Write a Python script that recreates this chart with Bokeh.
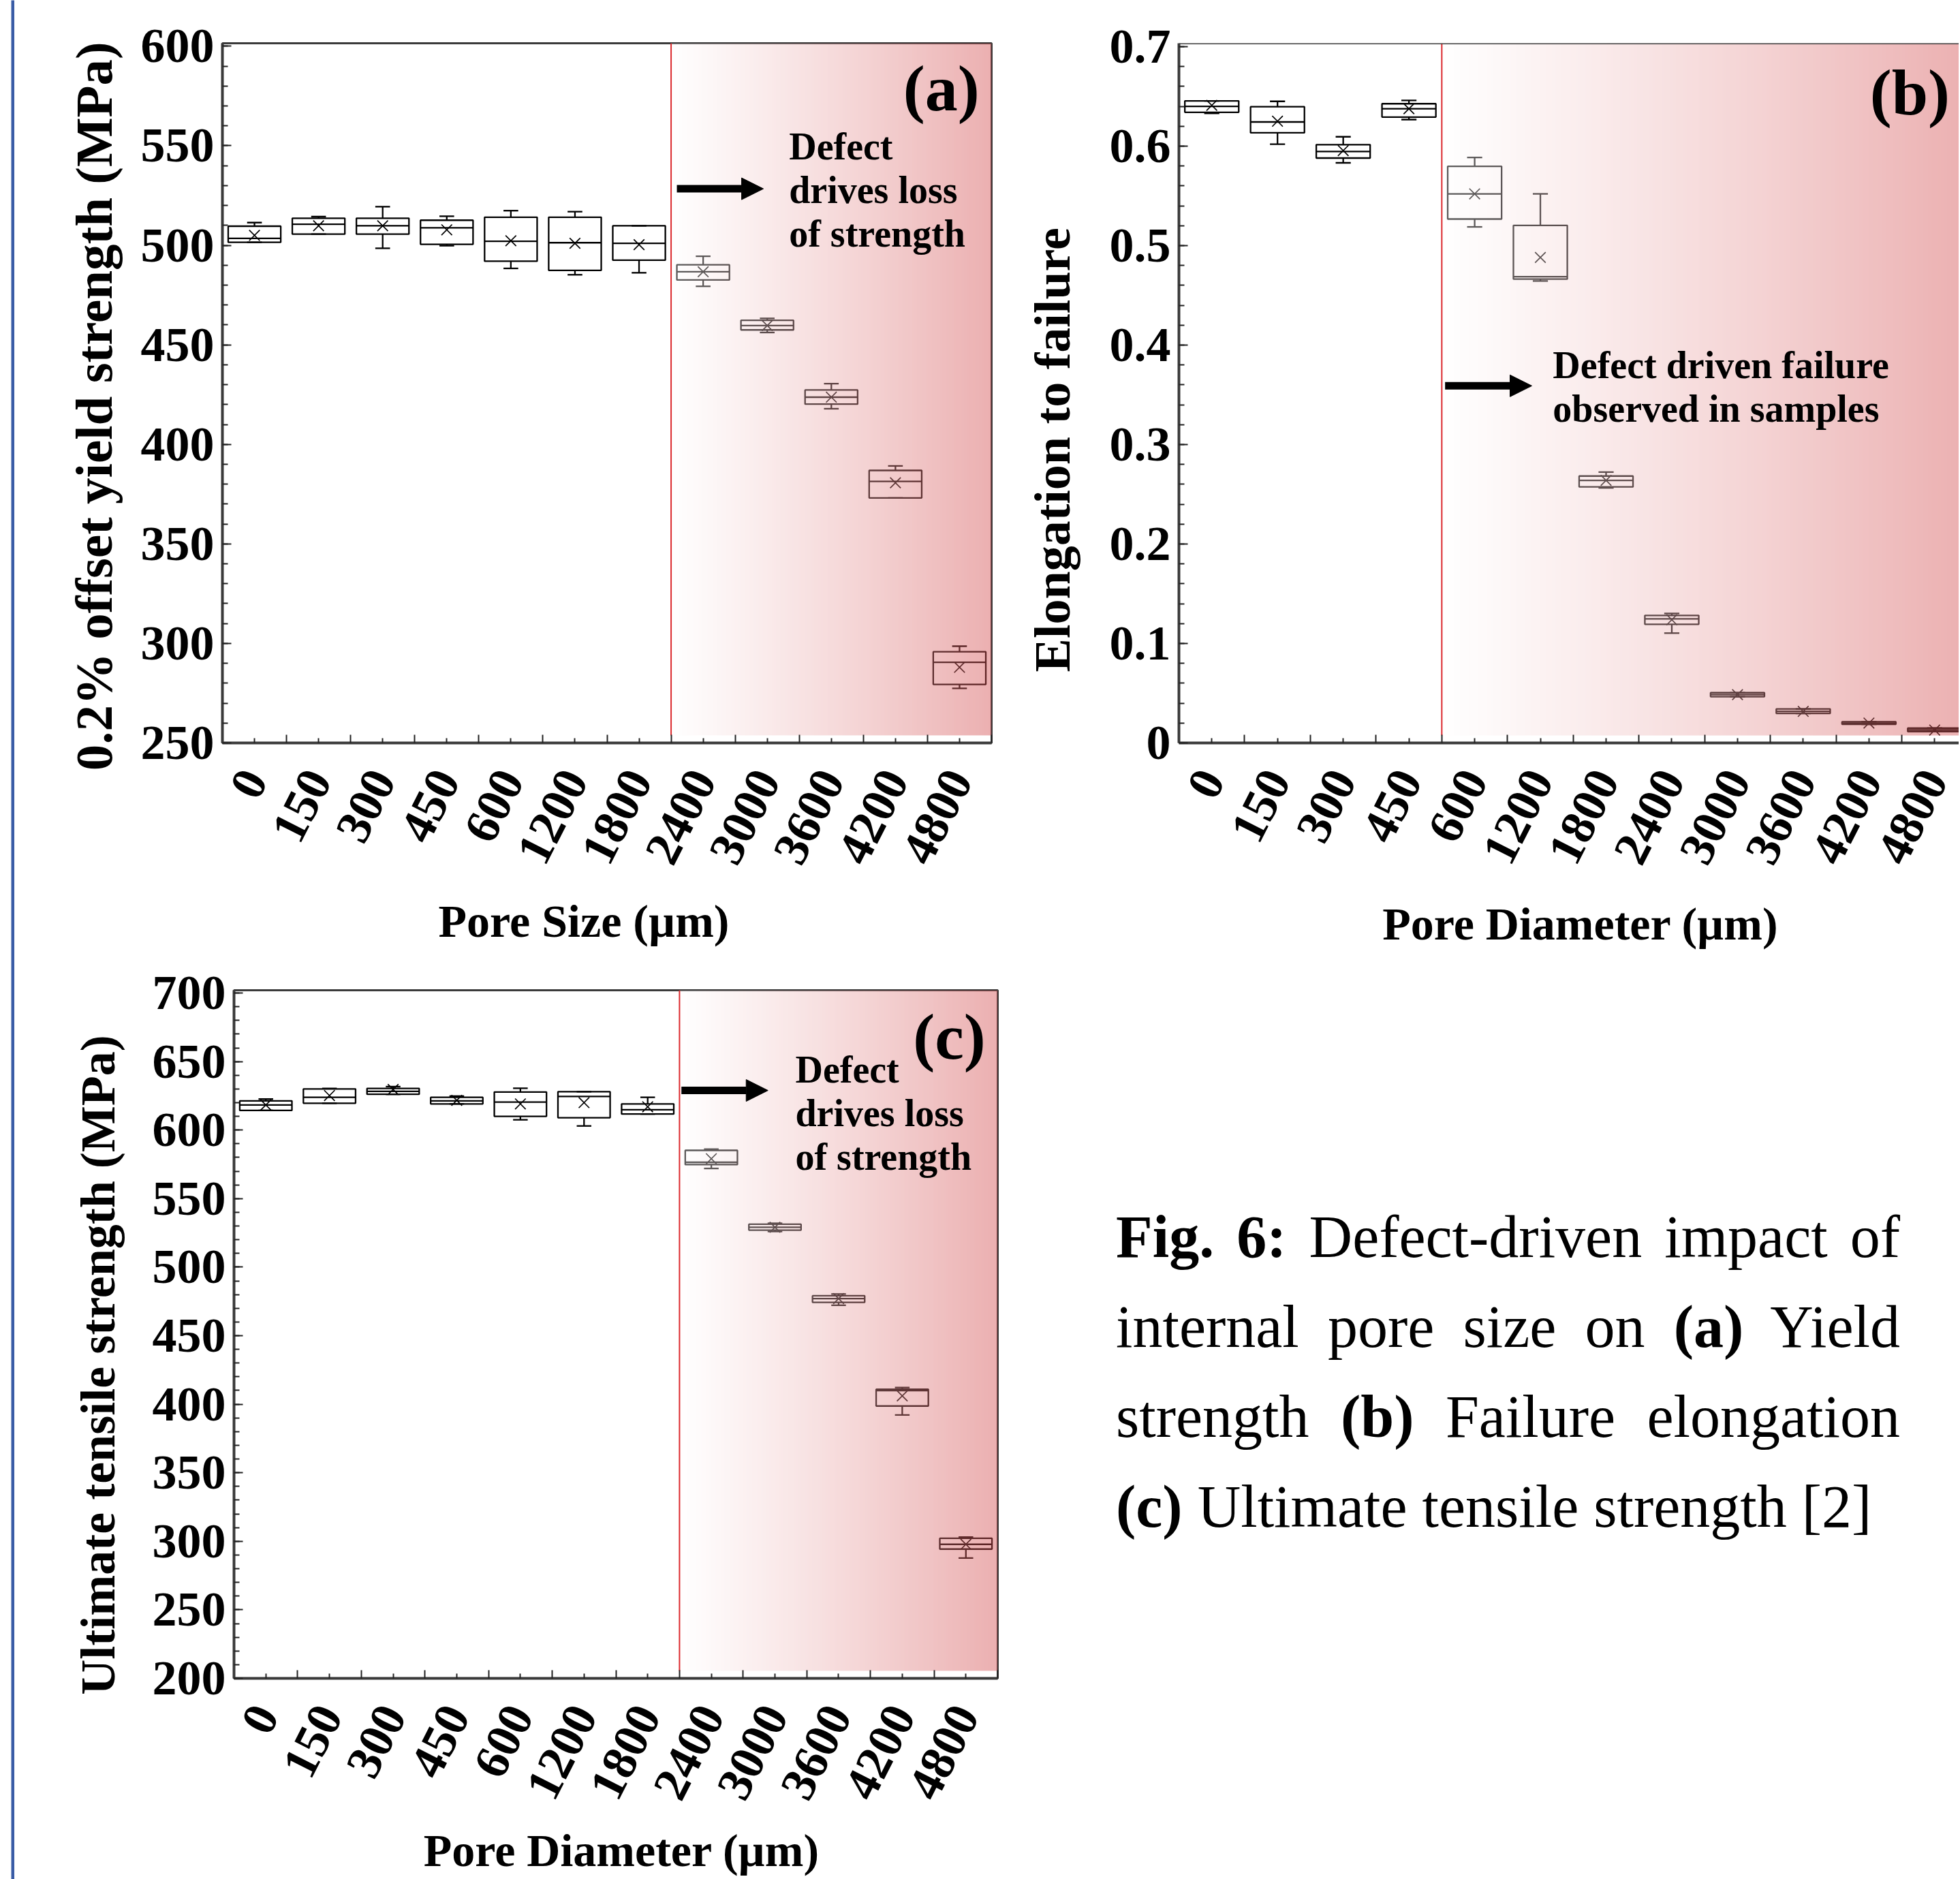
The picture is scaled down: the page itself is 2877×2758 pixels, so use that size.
import numpy as np
from bokeh.plotting import figure
from bokeh.models import (Range1d, FixedTicker, SingleIntervalTicker, CustomJSTickFormatter,
                          Label, Arrow, NormalHead, Span, Div, Spacer, ColumnDataSource)
from bokeh.layouts import row, column
from bokeh.core.properties import value
from bokeh.embed import file_html
from bokeh.resources import INLINE

# ---------------- data ----------------
categories = ["0", "150", "300", "450", "600", "1200", "1800", "2400", "3000", "3600", "4200", "4800"]

# (a) 0.2% offset yield strength (MPa)
ys_q1 = [501.5, 505.6, 505.6, 500.5, 492.0, 487.4, 492.5, 482.6, 457.5, 420.2, 373.1, 279.4]
ys_q3 = [509.6, 513.6, 513.6, 512.6, 514.1, 514.1, 509.8, 490.2, 462.3, 427.3, 386.9, 295.8]
ys_med = [503.5, 510.6, 509.8, 508.8, 502.0, 501.3, 501.0, 486.7, 459.7, 423.7, 381.4, 290.5]
ys_lo = [501.5, 505.6, 498.5, 499.8, 488.4, 485.2, 486.2, 479.4, 456.2, 417.9, 373.1, 277.4]
ys_hi = [511.4, 514.4, 519.4, 514.6, 517.4, 516.9, 509.8, 494.5, 463.3, 430.5, 389.2, 298.6]
ys_mean = [505.0, 509.8, 509.8, 507.8, 502.3, 501.0, 500.3, 486.7, 459.7, 423.7, 380.7, 288.0]

# (b) elongation to failure
el_q1 = [0.6340, 0.6134, 0.5880, 0.6292, 0.5267, 0.4663, 0.2574, 0.1193, 0.0465, 0.0297, 0.0188, 0.0114]
el_q3 = [0.6455, 0.6396, 0.6015, 0.6426, 0.5797, 0.5203, 0.2683, 0.1282, 0.0505, 0.0342, 0.0213, 0.0149]
el_med = [0.6400, 0.6243, 0.5946, 0.6376, 0.5520, 0.4688, 0.2639, 0.1248, 0.0485, 0.0317, 0.0200, 0.0130]
el_lo = [0.6330, 0.6020, 0.5832, 0.6267, 0.5188, 0.4644, 0.2564, 0.1104, 0.0465, 0.0297, 0.0188, 0.0114]
el_hi = [0.6455, 0.6450, 0.6094, 0.6460, 0.5886, 0.5520, 0.2723, 0.1302, 0.0505, 0.0342, 0.0213, 0.0149]
el_mean = [0.6410, 0.6250, 0.5955, 0.6376, 0.5520, 0.4881, 0.2639, 0.1238, 0.0485, 0.0317, 0.0200, 0.0130]

# (c) ultimate tensile strength (MPa)
ut_q1 = [614.3, 619.6, 626.1, 619.1, 610.0, 609.0, 611.7, 574.8, 527.0, 474.3, 398.7, 294.3]
ut_q3 = [621.3, 630.0, 630.4, 623.9, 627.8, 628.0, 619.1, 585.2, 531.3, 479.1, 410.9, 302.2]
ut_med = [618.3, 623.9, 628.3, 621.3, 620.4, 624.5, 614.8, 576.5, 529.1, 477.0, 410.0, 297.8]
ut_lo = [614.3, 619.6, 626.1, 619.1, 607.5, 603.0, 611.7, 572.0, 526.0, 472.2, 392.2, 287.8]
ut_hi = [622.6, 630.4, 631.7, 624.8, 630.5, 628.0, 623.9, 586.1, 532.0, 480.4, 412.2, 303.0]
ut_mean = [618.3, 625.2, 629.6, 621.7, 619.1, 620.0, 617.0, 579.1, 529.1, 477.0, 406.1, 297.8]

# caption, line by line: (bold?, text)
caption_lines = [
    [(True, "Fig. 6:"), (False, "Defect-driven impact of")],
    [(False, "internal pore size on"), (True, "(a)"), (False, "Yield")],
    [(False, "strength"), (True, "(b)"), (False, "Failure elongation")],
    [(True, "(c)"), (False, "Ultimate tensile strength [2]")],
]

FONT = "Liberation Serif"
BOX_W = 0.82
CAP_W = 0.23
OVER_END = np.array([212.0, 78.0, 80.0])
NB = "\u00a0"


def gradient_image(n=600):
    t = np.linspace(0.0, 1.0, n)
    col = 255.0 * (1 - t)[:, None] + OVER_END[None, :] * t[:, None]
    alpha = 0.36 + 0.09 * t
    img = np.zeros((1, n), dtype=np.uint32)
    view = img.view(dtype=np.uint8).reshape((1, n, 4))
    view[0, :, 0:3] = np.clip(col, 0, 255).astype(np.uint8)
    view[0, :, 3] = (alpha * 255).astype(np.uint8)
    return img


def make_panel(width, height, bl, bt, bb, br, x_end, y_start, y_end, y_interval, y_fmt_code,
               q1, q3, med, lo, hi, mean, boundary, shade_gap,
               ylabel, ylabel_size, ylabel_standoff, xlabel, xlabel_standoff, outline=True):
    p = figure(width=width, height=height, output_backend="svg", toolbar_location=None,
               title=None, x_range=Range1d(0, x_end), y_range=Range1d(y_start, y_end),
               min_border_left=bl, min_border_top=bt, min_border_bottom=bb, min_border_right=br,
               background_fill_color="white", border_fill_color="white")
    p.xgrid.visible = False
    p.ygrid.visible = False
    if outline:
        p.outline_line_color = "#3a3a3a"
        p.outline_line_width = 3
    else:
        p.outline_line_color = None
        p.add_layout(Span(location=y_end, dimension="width", line_color="#3a3a3a", line_width=3))

    n = len(categories)
    centers = [i + 0.5 for i in range(n)]
    bounds = [float(i) for i in range(n + 1)]
    xs = np.array(centers)
    src = ColumnDataSource(dict(x=xs, q1=q1, q3=q3, med=med, lo=lo, hi=hi, mean=mean,
                                left=xs - BOX_W / 2, right=xs + BOX_W / 2,
                                cl=xs - CAP_W / 2, cr=xs + CAP_W / 2))
    lw = 2.3
    p.quad(left="left", right="right", bottom="q1", top="q3", source=src,
           fill_alpha=0, line_color="black", line_width=lw)
    p.segment(x0="left", x1="right", y0="med", y1="med", source=src, line_color="black", line_width=lw)
    p.segment(x0="x", x1="x", y0="q3", y1="hi", source=src, line_color="black", line_width=lw)
    p.segment(x0="x", x1="x", y0="q1", y1="lo", source=src, line_color="black", line_width=lw)
    p.segment(x0="cl", x1="cr", y0="hi", y1="hi", source=src, line_color="black", line_width=lw)
    p.segment(x0="cl", x1="cr", y0="lo", y1="lo", source=src, line_color="black", line_width=lw)
    p.scatter(x="x", y="mean", source=src, marker="x", size=22, line_width=1.7, color="black")

    # shaded "defect driven" region (semi-transparent overlay)
    y0 = y_start + shade_gap
    p.image_rgba(image=[gradient_image()], x=boundary, y=y0, dw=n - boundary, dh=y_end - y0)
    p.segment(x0=[boundary], x1=[boundary], y0=[y0], y1=[y_end], line_color="#dc2a2e", line_width=2)

    xa = p.xaxis[0]
    ya = p.yaxis[0]
    xa.ticker = FixedTicker(ticks=centers, minor_ticks=bounds)
    xa.formatter = CustomJSTickFormatter(args=dict(labels=categories),
                                         code="const i = Math.round(tick - 0.5); return (labels[i] !== undefined) ? labels[i] : '';")
    xa.major_label_orientation = 1.1
    ya.ticker = SingleIntervalTicker(interval=y_interval, num_minor_ticks=5)
    ya.formatter = CustomJSTickFormatter(code=y_fmt_code)
    for ax in (xa, ya):
        ax.axis_line_width = 4
        ax.axis_line_color = "#3a3a3a"
        ax.major_tick_out = 0
        ax.minor_tick_out = 0
        ax.major_tick_line_color = "#222222"
        ax.minor_tick_line_color = "#222222"
        ax.major_tick_line_width = 2
        ax.minor_tick_line_width = 2
        ax.major_label_text_font = FONT
        ax.major_label_text_font_style = "bold"
        ax.major_label_text_font_size = "72px"
        ax.major_label_text_color = "black"
        ax.axis_label_text_font = FONT
        ax.axis_label_text_font_style = "bold"
        ax.axis_label_text_color = "black"
    xa.major_tick_in = 7
    xa.minor_tick_in = 12
    ya.major_tick_in = 13
    ya.minor_tick_in = 8
    xa.major_label_standoff = 44
    ya.major_label_standoff = 12
    ya.axis_label = ylabel
    ya.axis_label_text_font_size = ylabel_size
    ya.axis_label_standoff = ylabel_standoff
    xa.axis_label = xlabel
    xa.axis_label_text_font_size = "68px"
    xa.axis_label_standoff = xlabel_standoff
    return p


def add_notes(p, tag, tag_x, tag_y, lines, nx, ny, ax0, ax1, ay):
    p.add_layout(Label(x=tag_x, y=tag_y, text=tag, text_align="right", text_baseline="middle",
                       text_font=FONT, text_font_style="bold", text_font_size="96px",
                       text_color="black"))
    src = ColumnDataSource(dict(x=[nx] * len(lines), y=[ny] * len(lines), text=lines,
                                off=[64 * i for i in range(len(lines))]))
    p.text(x="x", y="y", text="text", y_offset="off", source=src, text_align="left",
           text_baseline="middle", text_font=value(FONT), text_font_style="bold",
           text_font_size="56px", text_color="black")
    p.add_layout(Arrow(end=NormalHead(size=32, fill_color="black", line_color="black", line_width=1),
                       x_start=ax0, y_start=ay, x_end=ax1, y_end=ay,
                       line_color="black", line_width=11))


fmt_int = "return tick.toFixed(0);"
fmt_b = "return (Math.abs(tick) < 1e-9) ? '0' : tick.toFixed(1);"

pa = make_panel(1464, 1392, 305, 55, 310, 30, 12, 250, 601.5, 50, fmt_int,
                ys_q1, ys_q3, ys_med, ys_lo, ys_hi, ys_mean, 7, 3.8,
                "0.2% offset yield strength (MPa)" + NB * 2, "77px", 23, "Pore Size (µm)" + NB * 4, 27)
add_notes(pa, "(a)", 11.81, 578.8, ["Defect", "drives loss", "of strength"], 8.84, 549.7, 7.09, 8.44, 528.4)

pb = make_panel(1390, 1392, 245, 44, 310, 0, 11.87, 0.0, 0.7034, 0.1, fmt_b,
                el_q1, el_q3, el_med, el_lo, el_hi, el_mean, 4, 0.0075,
                "Elongation to failure" + NB * 9, "74px", 40, NB * 2 + "Pore Diameter (µm)", 31, outline=False)
add_notes(pb, "(b)", 11.73, 0.654, ["Defect driven failure", "observed in samples"], 5.69, 0.3796, 4.05, 5.37, 0.359)

pc = make_panel(1483, 1358, 322, 53, 295, 40, 12, 200, 702, 50, fmt_int,
                ut_q1, ut_q3, ut_med, ut_lo, ut_hi, ut_mean, 7, 5.5,
                "Ultimate tensile strength (MPa)" + NB * 5, "72px", 37, NB + "Pore Diameter (µm)", 18)
add_notes(pc, "(c)", 11.81, 668.0, ["Defect", "drives loss", "of strength"], 8.82, 644.3, 7.03, 8.39, 628.9)

blue = figure(width=5, height=2758, output_backend="svg", toolbar_location=None, title=None,
              min_border=0, background_fill_color="#3a5ca6", border_fill_color="#3a5ca6",
              outline_line_color=None)
blue.axis.visible = False
blue.grid.visible = False

cap_parts = []
for k, line in enumerate(caption_lines):
    last = "left" if k == len(caption_lines) - 1 else "justify"
    pieces = " ".join(("<b>%s</b>" % t) if b else ("<span>%s</span>" % t) for b, t in line)
    cap_parts.append("<div style=\"text-align:justify; text-align-last:%s;\">%s</div>" % (last, pieces))
caption = Div(width=1151, text=(
    "<div style=\"font-family:'Liberation Serif',serif; font-size:88px; line-height:132px; "
    "color:#000; width:1151px;\">" + "".join(cap_parts) + "</div>"))

row1 = row(pa, pb)
row2 = row(pc, Spacer(width=129), column(Spacer(height=345), caption))
layout = row(Spacer(width=16, height=10), blue, column(Spacer(width=10, height=8), row1, row2))

open("out.html", "w").write(file_html(layout, INLINE))
